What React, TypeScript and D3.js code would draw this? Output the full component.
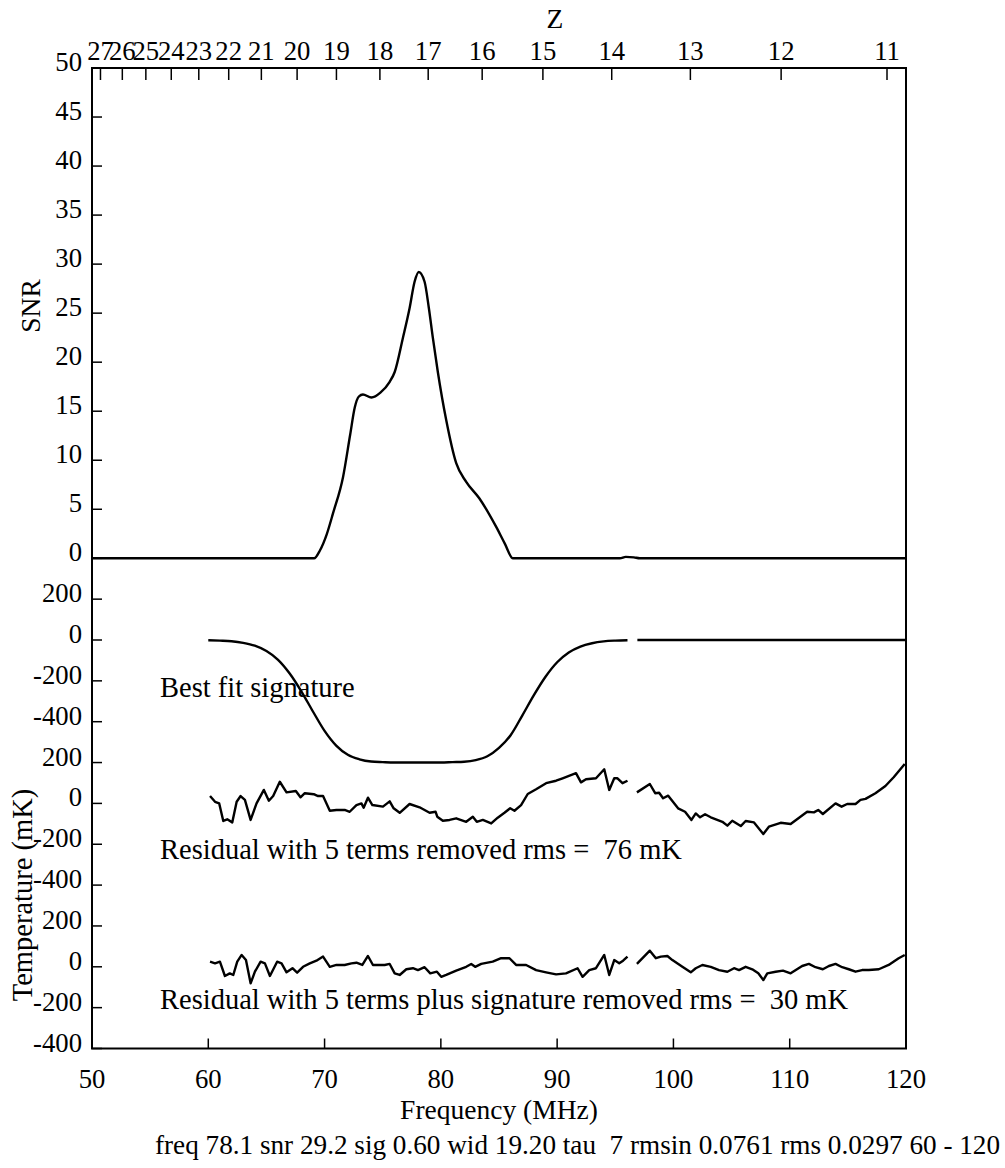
import React from 'react';
import { scaleLinear, line, curveMonotoneX, curveLinear } from 'd3';

// axis ticks
const FREQ_TICKS = [50, 60, 70, 80, 90, 100, 110, 120];
const Z_TICKS = [27, 26, 25, 24, 23, 22, 21, 20, 19, 18, 17, 16, 15, 14, 13, 12, 11];
const SNR_TICKS = [0, 5, 10, 15, 20, 25, 30, 35, 40, 45, 50];
const TEMP_TICKS = [200, 0, -200, -400];

// SNR vs frequency (MHz)
const snrCurve: [number, number][] = [
  [50, 0], [69.1, 0], [69.6, 0.8], [70.2, 2.5], [70.73, 4.6], [71.59, 8.3], [72.2, 12.6],
  [72.6, 15.4], [72.95, 16.5], [73.3, 16.7], [74.03, 16.4], [74.8, 16.9], [75.6, 18.0],
  [76.03, 19.0], [76.74, 22.5], [77.31, 25.5], [77.74, 28.2], [78.1, 29.2], [78.6, 28.2],
  [78.97, 25.5], [79.31, 22.5], [79.74, 19.0], [80.46, 14.1], [81.32, 9.7], [82.18, 7.8],
  [83.32, 6.1], [84.76, 3.2], [85.5, 1.5], [86.2, 0], [95.4, 0], [95.9, 0.15], [96.6, 0.1],
  [97.1, 0], [120, 0],
];

// best fit signature (mK), two segments around the data gap
const sigSeg1: [number, number][] = [
  [60, -1], [61, -3], [62, -6], [63, -14], [64, -28], [65, -54], [66, -97], [67, -164],
  [68, -251], [69, -350], [70, -445], [71, -517], [72, -562], [73, -584], [74, -595],
  [75, -598], [76, -600], [77, -600], [78, -600], [79, -600], [80, -600], [81, -598],
  [82, -596], [83, -588], [84, -569], [85, -528], [86, -466], [87, -370], [88, -270],
  [89, -180], [90, -109], [91, -61], [92, -32], [93, -16], [94, -7], [95, -3], [96.05, -1],
];
const sigSeg2: [number, number][] = [[96.9, 0], [120, 0]];

// residual with 5 terms removed (mK)
const res1Seg1: [number, number][] = [
  [60.15, 36], [60.58, 8], [60.94, 0], [61.29, -86], [61.63, -78], [62.06, -93], [62.44, 8],
  [62.78, 36], [63.15, 17], [63.64, -81], [64.15, 0], [64.78, 66], [65.21, 13], [65.58, 36],
  [66.15, 106], [66.73, 54], [67.53, 61], [67.93, 30], [68.3, 50], [69.07, 45], [69.44, 36],
  [69.87, 36], [70.45, -36], [71.02, -32], [71.73, -32], [72.16, -41], [72.74, -8], [73.17, 0],
  [73.36, -21], [73.73, 28], [74.11, -8], [75.02, -16], [75.6, 10], [75.94, -24], [76.46, -46],
  [77.31, -3], [78.17, -19], [79.03, -46], [79.55, -41], [79.69, -65], [80.17, -85], [80.75, -81],
  [81.32, -73], [82.18, -90], [82.75, -65], [83.09, -90], [83.61, -81], [84.33, -98], [84.89, -70],
  [85.47, -46], [85.96, -24], [86.33, -36], [86.9, -8], [87.47, 46], [88.19, 69], [89.05, 99],
  [89.91, 111], [90.47, 123], [91.62, 148], [92.05, 103], [92.48, 118], [93.34, 123], [94.05, 167],
  [94.48, 66], [94.91, 123], [95.19, 123], [95.62, 99], [96.05, 111],
];
const res1Seg2: [number, number][] = [
  [96.86, 54], [97.97, 95], [98.43, 50], [98.77, 52], [99.11, 25], [99.55, 38], [100.4, -24],
  [101.0, -41], [101.55, -81], [101.92, -49], [102.29, -68], [102.72, -53], [103.21, -68],
  [104.21, -90], [104.64, -109], [105.06, -85], [105.79, -111], [106.21, -86], [106.93, -93],
  [107.73, -150], [108.21, -114], [109.22, -95], [110.08, -101], [111.5, -41], [112.08, -44],
  [112.45, -32], [112.85, -52], [113.94, 0], [114.46, -16], [114.94, -3], [115.66, -3],
  [116.09, 17], [116.52, 22], [117.37, 50], [118.23, 85], [118.94, 128], [119.89, 193],
];

// residual with 5 terms plus signature removed (mK)
const res2Seg1: [number, number][] = [
  [60.15, 25], [60.58, 17], [61.0, 25], [61.43, -45], [61.85, -32], [62.15, -40], [62.49, 25],
  [62.87, 58], [63.24, 33], [63.64, -81], [64.01, -24], [64.5, 25], [64.87, 17], [65.3, -45],
  [65.92, 25], [66.3, 17], [66.73, -27], [67.24, -7], [67.64, -29], [68.15, 0], [68.73, 17],
  [69.3, 30], [69.87, 50], [70.45, 0], [71.02, 9], [71.73, 9], [72.31, 17], [72.74, 20],
  [73.25, 9], [73.73, 53], [74.16, 9], [74.74, 9], [75.17, 9], [75.6, 14], [76.03, -32],
  [76.46, -40], [77.03, -12], [77.6, -7], [78.03, -16], [78.6, -2], [79.09, -32], [79.66, -24],
  [80.03, -49], [80.46, -40], [81.32, -19], [82.18, 0], [82.61, 14], [82.95, 0], [83.47, 14],
  [84.46, 25], [85.18, 42], [85.9, 42], [86.47, 9], [87.33, 9], [88.19, -16], [89.05, -27],
  [89.91, -37], [90.76, -32], [91.76, -7], [92.19, -49], [92.76, -16], [93.34, -7], [94.05, 58],
  [94.48, -40], [94.91, 33], [95.34, 17], [95.67, 30], [96.05, 50],
];
const res2Seg2: [number, number][] = [
  [96.86, 14], [97.97, 79], [98.49, 42], [98.92, 50], [99.48, 53], [99.91, 33], [100.77, 0],
  [101.49, -27], [101.92, -7], [102.49, 9], [103.21, 0], [103.92, -16], [104.64, -24],
  [105.21, -7], [105.64, -16], [106.21, 0], [106.78, -12], [107.3, -32], [107.73, -65],
  [108.07, -32], [108.79, -24], [109.42, -19], [110.08, -32], [111.07, 4], [111.65, 14],
  [112.22, -2], [112.85, -12], [113.37, 4], [113.94, 14], [114.51, -2], [115.08, -12],
  [115.66, -24], [116.22, -16], [116.8, -16], [117.66, -12], [118.51, 9], [119.37, 42], [119.89, 58],
];

const FONT = "'Liberation Serif', 'DejaVu Serif', serif";

export default function App() {
  const W = 1005, H = 1168;
  const left = 92, right = 906, top = 68, mid = 558.3, bottom = 1048.5;
  const bandH = (bottom - mid) / 3;

  const x = scaleLinear().domain([50, 120]).range([left, right]);
  const ySnr = scaleLinear().domain([0, 50]).range([mid, top]);
  const bands = [0, 1, 2].map(i =>
    scaleLinear().domain([-400, 400]).range([mid + (i + 1) * bandH, mid + i * bandH])
  );

  const mk = (y: any, smooth: boolean) =>
    line<[number, number]>()
      .x(d => x(d[0]))
      .y(d => y(d[1]))
      .curve(smooth ? curveMonotoneX : curveLinear);

  const snrLine = mk(ySnr, true);
  const sigLine = mk(bands[0], true);
  const r1Line = mk(bands[1], false);
  const r2Line = mk(bands[2], false);

  const stroke = { fill: 'none', stroke: '#000', strokeWidth: 2.4, strokeLinejoin: 'round' as const };
  const tickFs = 26.7;
  const noteFs = 28.5;

  return (
    <svg width={W} height={H}
      style={{ position: 'absolute', left: 0, top: 0, background: '#fff', fontFamily: FONT, fontSize: tickFs }}>
      {/* frame */}
      <rect x={left} y={top} width={right - left} height={bottom - top} fill="none" stroke="#000" strokeWidth={2} />

      {/* top Z axis */}
      {Z_TICKS.map(z => {
        const f = 1420.4 / (1 + z);
        const px = x(f);
        return (
          <g key={'z' + z}>
            <line x1={px} x2={px} y1={top} y2={top + 12} stroke="#000" strokeWidth={1.5} />
            <text x={px} y={top - 8} textAnchor="middle">{z}</text>
          </g>
        );
      })}
      <text x={555} y={28} textAnchor="middle" fontSize={27.5}>Z</text>

      {/* bottom frequency axis */}
      {FREQ_TICKS.map(f => (
        <g key={'f' + f}>
          <line x1={x(f)} x2={x(f)} y1={bottom} y2={bottom - 10} stroke="#000" strokeWidth={1.5} />
          <text x={x(f)} y={bottom + 39} textAnchor="middle">{f}</text>
        </g>
      ))}
      <text x={(left + right) / 2} y={1119} textAnchor="middle" fontSize={27.5}>Frequency (MHz)</text>

      {/* SNR axis */}
      {SNR_TICKS.map(s => (
        <g key={'s' + s}>
          <line x1={left} x2={left + 10} y1={ySnr(s)} y2={ySnr(s)} stroke="#000" strokeWidth={1.5} />
          <text x={82} y={ySnr(s) + 3} textAnchor="end">{s}</text>
        </g>
      ))}
      <text transform="translate(40,306) rotate(-90)" textAnchor="middle" fontSize={27.5}>SNR</text>

      {/* temperature bands */}
      {bands.map((b, i) =>
        TEMP_TICKS.map(t => (
          <g key={'t' + i + t}>
            <line x1={left} x2={left + 10} y1={b(t)} y2={b(t)} stroke="#000" strokeWidth={1.5} />
            <text x={82} y={b(t) + 3} textAnchor="end">{t}</text>
          </g>
        ))
      )}
      <text transform="translate(32,895) rotate(-90)" textAnchor="middle" fontSize={28.5}>Temperature (mK)</text>

      {/* SNR curve */}
      <path d={snrLine(snrCurve) || ''} {...stroke} />

      {/* signature and residuals */}
      <path d={sigLine(sigSeg1) || ''} {...stroke} />
      <path d={sigLine(sigSeg2) || ''} {...stroke} />
      <path d={r1Line(res1Seg1) || ''} {...stroke} />
      <path d={r1Line(res1Seg2) || ''} {...stroke} />
      <path d={r2Line(res2Seg1) || ''} {...stroke} />
      <path d={r2Line(res2Seg2) || ''} {...stroke} />

      <g fontSize={noteFs}>
        <text x={160} y={697}>Best fit signature</text>
        <text x={160} y={859} xmlSpace="preserve">Residual with 5 terms removed rms =  76 mK</text>
        <text x={160} y={1009} xmlSpace="preserve">Residual with 5 terms plus signature removed rms =  30 mK</text>
      </g>

      <text x={155} y={1154} fontSize={27.2} xmlSpace="preserve">freq 78.1 snr 29.2 sig 0.60 wid 19.20 tau  7 rmsin 0.0761 rms 0.0297 60 - 120</text>
    </svg>
  );
}
